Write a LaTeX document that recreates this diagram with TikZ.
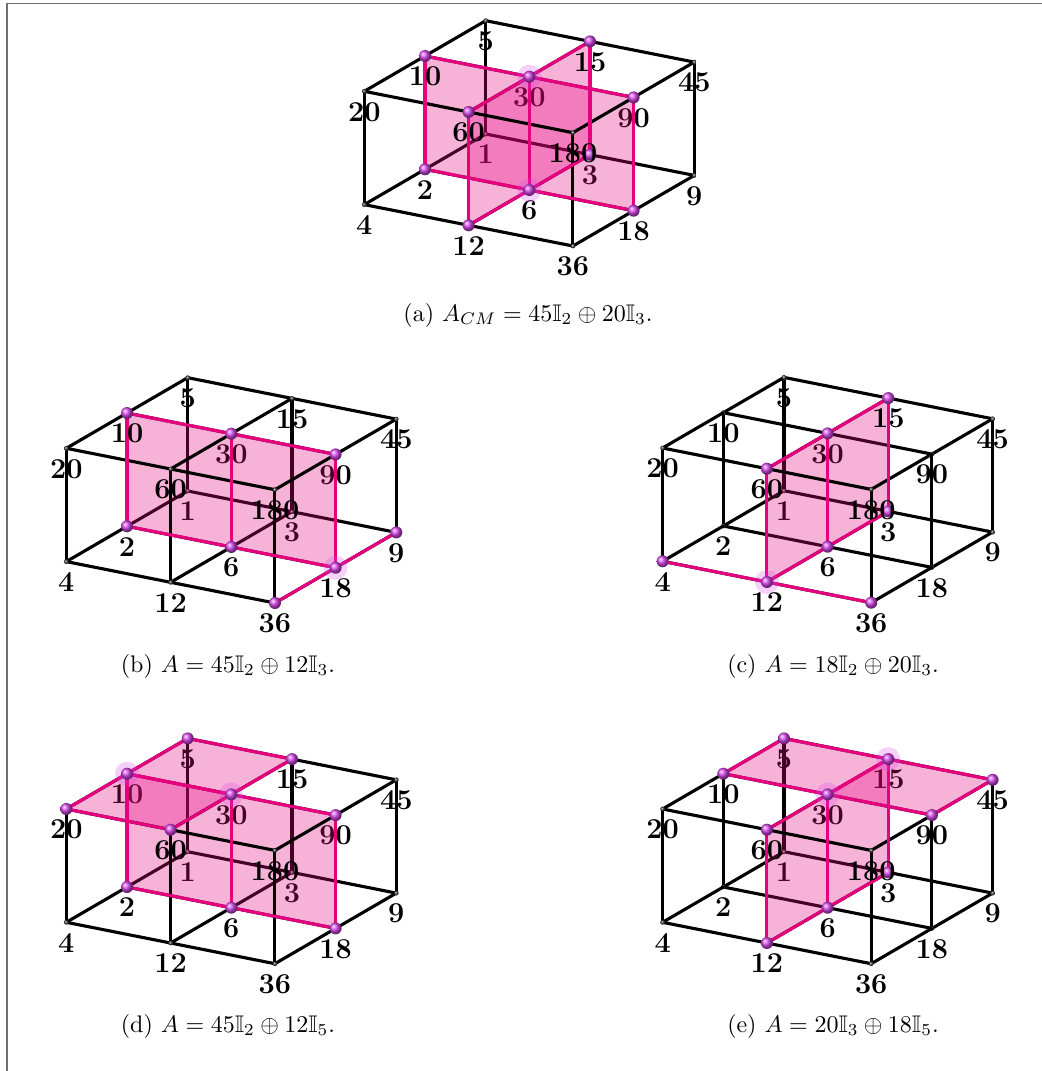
\documentclass[tikz,border=0pt]{standalone}
\usepackage{amssymb}
\usetikzlibrary{calc}
\definecolor{mag}{RGB}{230,0,126}
\definecolor{ballc}{RGB}{215,70,235}
\definecolor{framec}{RGB}{110,110,110}
\tikzset{
 edge/.style={line width=1.3pt, black, line cap=round},
 medge/.style={line width=1.3pt, mag, line cap=round},
 plane/.style={fill=mag, fill opacity=0.3, draw=none},
 ballnode/.style={circle, inner sep=0pt, minimum size=5pt, shading=ball, ball color=ballc},
 dotnode/.style={circle, inner sep=0pt, minimum size=2pt, shading=ball, ball color=black!75},
 halo/.style={fill=ballc, fill opacity=0.25, draw=none},
 lab/.style={font=\large\bfseries, inner sep=0pt},
 captext/.style={font=\normalsize, inner sep=0pt},
 framel/.style={draw=framec, line width=0.6pt},
}
\newcommand\mkverts[3]{%
 \foreach \i in {0,1,2}{\foreach \j in {0,1,2}{\foreach \k in {0,1}{%
   \pgfmathtruncatemacro\v{(2^\i)*(3^\j)*(5^\k)}%
   \coordinate (#1\v) at ({#2-60.7*\i+104.3*\j},{#3+35.3*\i+20.7*\j-113.3*\k});
 }}}}
\newcommand\backedges[1]{%
 \foreach \u/\w in {1/2,3/6,9/18,5/10,15/30,45/90,1/3,3/9,2/6,6/18,5/15,15/45,10/30,30/90,1/5,2/10,3/15,6/30,9/45,18/90}{%
   \draw[edge] (#1\u) -- (#1\w);}}
\newcommand\frontedges[1]{%
 \foreach \u/\w in {2/4,6/12,18/36,10/20,30/60,90/180,4/12,12/36,20/60,60/180,4/20,12/60,36/180}{%
   \draw[edge] (#1\u) -- (#1\w);}}
\newcommand\medges[2]{\foreach \u/\w in #2 {\draw[medge] (#1\u) -- (#1\w);}}
\newcommand\dotset[2]{\foreach \v in {#2}{\node[dotnode] (#1d\v) at (#1\v) {};}}
\newcommand\ballset[2]{\foreach \v in {#2}{\node[ballnode] (#1b\v) at (#1\v) {};}}
\newcommand\haloset[2]{\foreach \v in {#2}{\fill[halo] (#1\v) circle (12);}}
\newcommand\labset[2]{\foreach \v in {#2}{\node[lab] (#1l\v) at ($(#1\v)+(0,20.5)$) {\v};}}
\def\planeA{2/6,6/18,10/30,30/90,2/10,6/30,18/90}
\def\planeB{3/6,6/12,15/30,30/60,3/15,6/30,12/60}
\def\planeD{5/10,10/20,15/30,30/60,5/15,10/30,20/60}
\def\planeE{5/15,15/45,10/30,30/90,5/10,15/30,45/90}
\def\extraB{36/18,18/9}
\def\extraC{4/12,12/36}
\begin{document}
\begin{tikzpicture}[x=0.4167pt, y=-0.4167pt]
\useasboundingbox (0,0) rectangle (1042,1071);
\coordinate (fbl) at (7,1071);
\coordinate (ftl) at (7,3.3);
\coordinate (ftr) at (1042,3.3);
\draw[framel] (fbl) -- (ftl) -- (ftr);

% ---------- (a)
\mkverts{a}{485.7}{134}
\backedges{a}
\dotset{a}{1,9,5,45}
\labset{a}{1,3,30,90,9,45,5,2,6,18}
\fill[plane] (a10) -- (a90) -- (a18) -- (a2) -- cycle;
\fill[plane] (a60) -- (a15) -- (a3) -- (a12) -- cycle;
\frontedges{a}
\medges{a}{\planeA}
\medges{a}{\planeB}
\dotset{a}{4,36,20,180}
\haloset{a}{30,6}
\ballset{a}{2,6,18,10,30,90,3,12,15,60}
\labset{a}{15,60,180,10,20,4,12,36}
\node[captext] (capa) at (528,315) {(a) $A_{CM} = 45\mathbb{I}_2 \oplus 20\mathbb{I}_3$.};

% ---------- (b)
\mkverts{b}{187.7}{491}
\backedges{b}
\dotset{b}{1,3,5,15,45}
\labset{b}{1,3,30,90,9,45,5,2,6,18}
\fill[plane] (b10) -- (b90) -- (b18) -- (b2) -- cycle;
\frontedges{b}
\medges{b}{\planeA}
\medges{b}{\extraB}
\dotset{b}{4,12,20,60,180}
\haloset{b}{18}
\ballset{b}{2,6,18,10,30,90,9,36}
\labset{b}{15,60,180,10,20,4,12,36}
\node[captext] (capb) at (228,666) {(b) $A = 45\mathbb{I}_2 \oplus 12\mathbb{I}_3$.};

% ---------- (c)
\mkverts{c}{784}{490.7}
\backedges{c}
\dotset{c}{1,9,2,18,5,45,10,90}
\labset{c}{1,30,9,45,5,2,6,18,90,10}
\fill[plane] (c60) -- (c15) -- (c3) -- (c12) -- cycle;
\frontedges{c}
\medges{c}{\planeB}
\medges{c}{\extraC}
\dotset{c}{20,180}
\haloset{c}{12}
\ballset{c}{3,6,12,15,30,60,4,36}
\labset{c}{3,15,60,180,20,4,12,36}
\node[captext] (capc) at (833,666) {(c) $A = 18\mathbb{I}_2 \oplus 20\mathbb{I}_3$.};

% ---------- (d)
\mkverts{d}{187.7}{851.7}
\backedges{d}
\dotset{d}{1,3,9,45}
\labset{d}{1,3,30,90,9,45,5,10,2,6,18}
\fill[plane] (d10) -- (d90) -- (d18) -- (d2) -- cycle;
\fill[plane] (d20) -- (d5) -- (d15) -- (d60) -- cycle;
\frontedges{d}
\medges{d}{\planeA}
\medges{d}{\planeD}
\dotset{d}{4,12,36,180}
\haloset{d}{10,30}
\ballset{d}{2,6,18,10,30,90,5,15,20,60}
\labset{d}{15,60,180,20,4,12,36}
\node[captext] (capd) at (228,1026) {(d) $A = 45\mathbb{I}_2 \oplus 12\mathbb{I}_5$.};

% ---------- (e)
\mkverts{e}{784}{851.7}
\backedges{e}
\dotset{e}{1,9,2,18}
\labset{e}{1,30,5,15,9,2,6,18}
\fill[plane] (e60) -- (e15) -- (e3) -- (e12) -- cycle;
\fill[plane] (e5) -- (e45) -- (e90) -- (e10) -- cycle;
\frontedges{e}
\medges{e}{\planeB}
\medges{e}{\planeE}
\dotset{e}{4,20,36,180}
\haloset{e}{15,30}
\ballset{e}{3,6,12,15,30,60,5,45,10,90}
\labset{e}{3,45,90,10,60,180,20,4,12,36}
\node[captext] (cape) at (833,1026) {(e) $A = 20\mathbb{I}_3 \oplus 18\mathbb{I}_5$.};
\end{tikzpicture}
\end{document}
